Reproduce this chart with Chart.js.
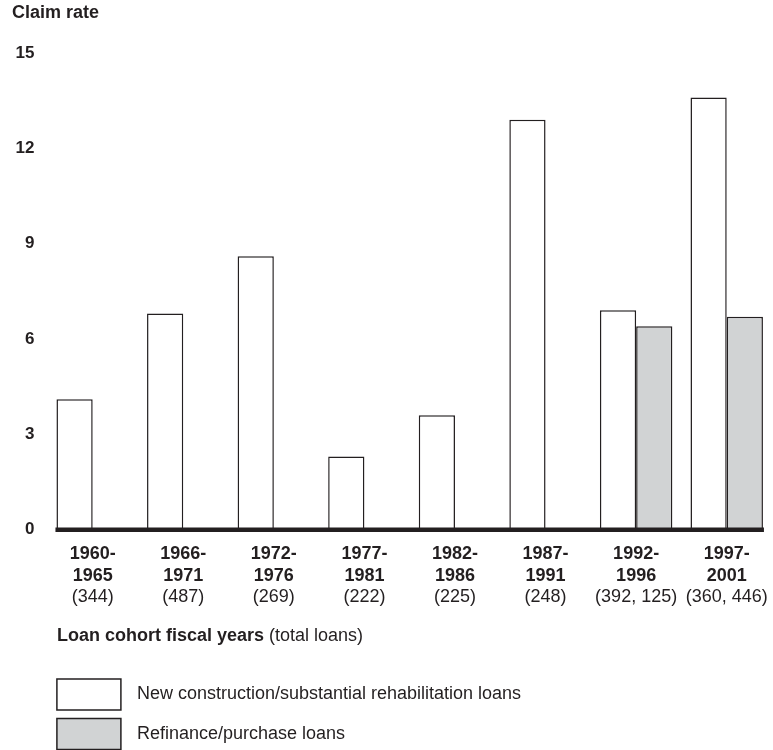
<!DOCTYPE html>
<html>
<head>
<meta charset="utf-8">
<script src="https://cdn.jsdelivr.net/npm/chart.js@4/dist/chart.umd.min.js"></script>
<style>
  html, body { margin: 0; padding: 0; background: #fff; }
  canvas { display: block; }
</style>
</head>
<body>
<canvas id="claimChart" width="773" height="750"></canvas>
<script>
// データ
const cohorts = [
    ['1960-', '1965'], ['1966-', '1971'], ['1972-', '1976'], ['1977-', '1981'],
    ['1982-', '1986'], ['1987-', '1991'], ['1992-', '1996'], ['1997-', '2001']
];
const totalLoans = ['(344)', '(487)', '(269)', '(222)', '(225)', '(248)', '(392, 125)', '(360, 446)'];
const newConstruction = [4.1, 6.8, 8.6, 2.3, 3.6, 12.9, 6.9, 13.6];
const refinance = [null, null, null, null, null, null, 6.4, 6.7];
const yTicks = [0, 3, 6, 9, 12, 15];

const ink = '#231f20';
const family = '"Liberation Sans", Arial, Helvetica, sans-serif';
Chart.defaults.font.family = family;
Chart.defaults.color = ink;

// ゼロの太いベースライン
const baselinePlugin = {
    id: 'baseline',
    afterDatasetsDraw(chart) {
        const {ctx, scales: {x, y}} = chart;
        const half = x.width / cohorts.length * 0.8 / 2;
        const x0 = x.getPixelForValue(0) - half;
        const x1 = x.getPixelForValue(cohorts.length - 1) + half;
        const y0 = y.getPixelForValue(0);
        ctx.save();
        ctx.fillStyle = ink;
        ctx.fillRect(x0 - 1, y0 - 2, x1 - x0 + 2, 4.5);
        ctx.restore();
    }
};

// 軸タイトルと凡例
const notesPlugin = {
    id: 'notes',
    afterDraw(chart) {
        const {ctx, chartArea} = chart;
        const left = chartArea.left + 9.5;
        ctx.save();
        ctx.fillStyle = ink;
        ctx.textBaseline = 'middle';
        ctx.font = 'bold 18px ' + family;
        const bold = 'Loan cohort fiscal years';
        ctx.fillText(bold, left, 636);
        const w = ctx.measureText(bold).width;
        ctx.font = '18px ' + family;
        ctx.fillText(' (total loans)', left + w, 636);

        chart.data.datasets.forEach((ds, i) => {
            const top = 679 + i * 39.5;
            ctx.fillStyle = ds.backgroundColor;
            ctx.fillRect(left, top, 64, 31);
            ctx.strokeStyle = ds.borderColor;
            ctx.lineWidth = 1.5;
            ctx.strokeRect(left, top, 64, 31);
            ctx.fillStyle = ink;
            ctx.fillText(ds.label, left + 80, top + 15.5);
        });
        ctx.restore();
    }
};

new Chart(document.getElementById('claimChart'), {
    type: 'bar',
    data: {
        labels: cohorts,
        datasets: [{
            label: 'New construction/substantial rehabilitation loans',
            data: newConstruction,
            backgroundColor: '#ffffff',
            borderColor: ink,
            borderWidth: 1.5,
            categoryPercentage: 0.8,
            barPercentage: 1.0
        }, {
            label: 'Refinance/purchase loans',
            data: refinance,
            backgroundColor: '#d1d3d4',
            borderColor: ink,
            borderWidth: 1.5,
            categoryPercentage: 0.8,
            barPercentage: 1.0
        }]
    },
    options: {
        responsive: false,
        animation: false,
        layout: {
            padding: {top: 2, left: 12, right: 1, bottom: 141.7}
        },
        plugins: {
            legend: {display: false},
            tooltip: {enabled: false},
            title: {
                display: true,
                text: 'Claim rate',
                align: 'start',
                font: {size: 18, weight: 'bold'},
                padding: {top: 0, bottom: 29.4}
            }
        },
        scales: {
            x: {
                grid: {display: false, drawTicks: false},
                border: {display: false},
                afterFit(scale) {
                    scale.height = 57.2;
                },
                ticks: {
                    font: {size: 18, weight: 'bold'},
                    padding: 14,
                    maxRotation: 0,
                    autoSkip: false
                }
            },
            x2: {
                type: 'category',
                axis: 'x',
                position: 'bottom',
                labels: totalLoans,
                offset: true,
                grid: {display: false, drawTicks: false},
                border: {display: false},
                afterFit(scale) {
                    scale.height = 21.6;
                },
                ticks: {
                    font: {size: 18},
                    padding: 0,
                    maxRotation: 0,
                    autoSkip: false
                }
            },
            y: {
                min: 0,
                max: 15,
                grid: {display: false, drawTicks: false},
                border: {display: false},
                afterBuildTicks(scale) {
                    scale.ticks = yTicks.map(v => ({value: v}));
                },
                afterFit(scale) {
                    scale.width = 35.4;
                },
                ticks: {
                    font: {size: 17, weight: 'bold'},
                    padding: 13
                }
            }
        }
    },
    plugins: [baselinePlugin, notesPlugin]
});
</script>
</body>
</html>
